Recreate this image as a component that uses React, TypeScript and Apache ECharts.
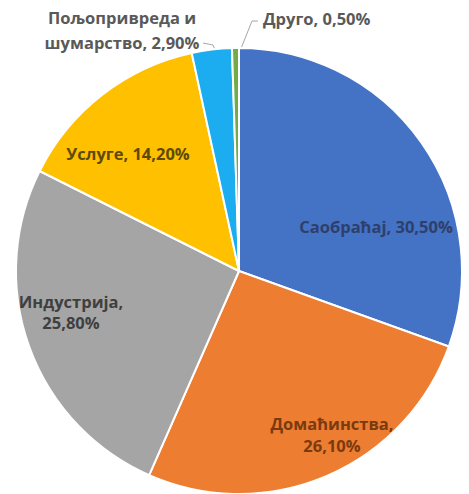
import React, { useEffect, useRef } from "react";
import * as echarts from "echarts";

const categories = ["Саобраћај", "Домаћинства", "Индустрија", "Услуге", "Пољопривреда и шумарство", "Друго"];
const values = [30.5, 26.1, 25.8, 14.2, 2.9, 0.5];
const labelTexts = [
  "Саобраћај, 30,50%",
  "Домаћинства,\n26,10%",
  "Индустрија,\n25,80%",
  "Услуге, 14,20%",
  "Пољопривреда и\nшумарство, 2,90%",
  "Друго, 0,50%",
];

const colors = ["#4472C4", "#ED7D31", "#A5A5A5", "#FFC000", "#1BADF0", "#70AD47"];
const textColors = ["#2E3F6B", "#7A3A10", "#3F3F3F", "#5E4A08", "#595959", "#595959"];
const lineHeights = [22, 22, 21, 22, 25, 22];
// label anchor placements (layout only)
const labelPlace: { x: number; y: number; align: string }[] = [
  { x: 376, y: 226, align: "center" },
  { x: 332, y: 434, align: "center" },
  { x: 71, y: 312, align: "center" },
  { x: 128, y: 153, align: "center" },
  { x: 122, y: 30, align: "center" },
  { x: 263, y: 18, align: "left" },
];
const leaderLines: (number[][] | null)[] = [
  null, null, null, null,
  [[203, 43], [213, 45], [216, 52]],
  [[258, 21], [252, 21], [240, 51]],
];

export default function App() {
  const ref = useRef<HTMLDivElement>(null);
  useEffect(() => {
    if (!ref.current) return;
    const chart = echarts.init(ref.current, null, { renderer: "svg" });
    chart.setOption({
      animation: false,
      backgroundColor: "#ffffff",
      series: [
        {
          type: "pie",
          center: [239, 271],
          radius: 223,
          startAngle: 90,
          clockwise: true,
          avoidLabelOverlap: false,
          itemStyle: { borderColor: "#ffffff", borderWidth: 2 },
          label: {
            fontFamily: "'Open Sans', Lato, sans-serif",
            fontWeight: "bold",
            fontSize: 16.5,
          },
          labelLine: { show: true, length: 5, length2: 5, lineStyle: { color: "#A6A6A6", width: 1 } },
          labelLayout: (params: any) => {
            const p = labelPlace[params.dataIndex];
            const out: any = { x: p.x, y: p.y, align: p.align, verticalAlign: "middle" };
            const l = leaderLines[params.dataIndex];
            if (l) out.labelLinePoints = l;
            return out;
          },
          data: categories.map((name, i) => {
            const outside = leaderLines[i] !== null;
            return {
              name,
              value: values[i],
              itemStyle: { color: colors[i] },
              label: {
                show: true,
                position: outside ? "outside" : "inside",
                formatter: labelTexts[i],
                color: textColors[i],
                align: "center",
                lineHeight: lineHeights[i],
              },
              labelLine: { show: outside },
            };
          }),
        },
      ],
    });
    return () => chart.dispose();
  }, []);
  return <div ref={ref} style={{ width: 469, height: 494, position: "absolute", left: 0, top: 0 }} />;
}
